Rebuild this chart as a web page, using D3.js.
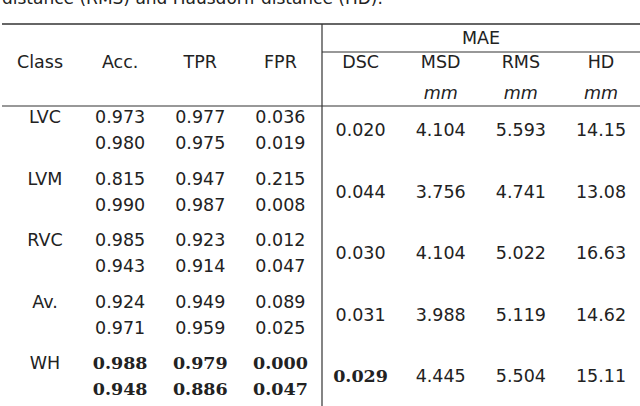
<!DOCTYPE html>
<html><head><meta charset="utf-8">
<script src="https://cdn.jsdelivr.net/npm/d3@7"></script>
<style>body{margin:0;background:#fff}</style>
</head><body>
<svg id="chart" width="640" height="406"></svg>
<script>
const classes = ['LVC', 'LVM', 'RVC', 'Av.', 'WH'];
const acc = [[0.973, 0.980], [0.815, 0.990], [0.985, 0.943], [0.924, 0.971], [0.988, 0.948]];
const tpr = [[0.977, 0.975], [0.947, 0.987], [0.923, 0.914], [0.949, 0.959], [0.979, 0.886]];
const fpr = [[0.036, 0.019], [0.215, 0.008], [0.012, 0.047], [0.089, 0.025], [0.000, 0.047]];
const dsc = [0.020, 0.044, 0.030, 0.031, 0.029];
const msd = [4.104, 3.756, 4.104, 3.988, 4.445];
const rms = [5.593, 4.741, 5.022, 5.119, 5.504];
const hd = [14.15, 13.08, 16.63, 14.62, 15.11];
const headers = ['Class', 'Acc.', 'TPR', 'FPR', 'DSC', 'MSD', 'RMS', 'HD'];
const units = ['', '', '', '', '', 'mm', 'mm', 'mm'];

const svg = d3.select('#chart');
const sans = 'DejaVu Sans, sans-serif';
const x = d3.scalePoint().domain(headers).range([40, 601]);
const y = d3.scaleLinear().domain([0, 4]).range([130, 376]);

svg.append('text').attr('x', 2).attr('y', 4).attr('font-family', sans).attr('font-size', 17)
  .attr('fill', '#222').text('distance (RMS) and Hausdorff distance (HD).');

const line = (x1, y1, x2, y2, w) => svg.append('line').attr('x1', x1).attr('y1', y1)
  .attr('x2', x2).attr('y2', y2).attr('stroke', '#333').attr('stroke-width', w);
line(2, 24, 640, 24, 1.6);
line(322, 24, 322, 406, 1.2);
line(322, 52, 640, 52, 1.2);
line(2, 106, 640, 106, 1.2);

function txt(xx, yy, s, opt = {}) {
  svg.append('text').attr('x', xx).attr('y', yy).attr('text-anchor', 'middle')
    .attr('dominant-baseline', 'central')
    .attr('font-family', opt.bold ? 'DejaVu Serif, serif' : sans)
    .attr('font-weight', opt.bold ? 'bold' : 'normal')
    .attr('font-style', opt.italic ? 'italic' : 'normal')
    .attr('font-size', 17.5).attr('fill', '#222').text(s);
}

txt(481, 38, 'MAE');
headers.forEach((h, i) => { txt(x(h), 62, h); if (units[i]) txt(x(h), 93, units[i], {italic: true}); });

const f3 = d3.format('.3f'), f2 = d3.format('.2f');
classes.forEach((c, i) => {
  const yc = y(i), bold = c === 'WH';
  txt(x('Class') + 5, yc - 13, c);
  [acc, tpr, fpr].forEach((arr, k) => {
    arr[i].forEach((v, j) => txt(x(headers[k + 1]), yc - 13 + j * 26, f3(v), {bold}));
  });
  txt(x('DSC'), yc, f3(dsc[i]), {bold});
  txt(x('MSD'), yc, f3(msd[i]));
  txt(x('RMS'), yc, f3(rms[i]));
  txt(x('HD'), yc, f2(hd[i]));
});
</script>
</body></html>
